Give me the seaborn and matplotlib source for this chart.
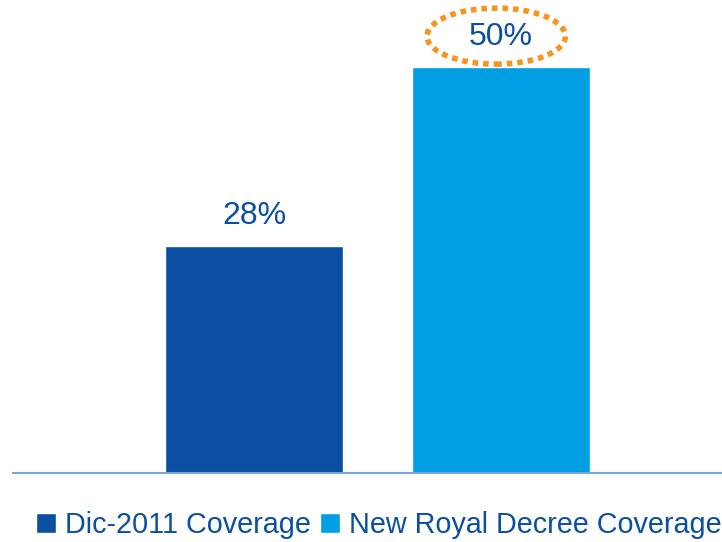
import matplotlib
matplotlib.use("Agg")
import matplotlib.pyplot as plt
from matplotlib import font_manager
import seaborn as sns
import pandas as pd
from matplotlib.patches import Ellipse

categories = ["Dic-2011 Coverage", "New Royal Decree Coverage"]
values = [28, 50]
labels = ["28%", "50%"]
colors = ["#0b4fa0", "#009fe3"]

sns.set_style("white")
names = {f.name for f in font_manager.fontManager.ttflist}
legend_font = "Liberation Sans Narrow" if "Liberation Sans Narrow" in names else "Liberation Sans"
plt.rcParams['font.family'] = ['Liberation Sans', 'DejaVu Sans']

df = pd.DataFrame({"series": categories, "value": values})

fig = plt.figure(figsize=(7.22, 5.42), dpi=100)
ax = fig.add_axes([13/722, 1 - 473/542, 709/722, 473/542])

sns.barplot(data=df, x="series", y="value", hue="series", palette=colors,
            width=0.72, legend=True, ax=ax, saturation=1)

ax.set_xlim(-0.976, 1.894)
ax.set_ylim(0, 58.25)
for s in ["top", "right", "left"]:
    ax.spines[s].set_visible(False)
ax.spines["bottom"].set_color("#7aa6dc")
ax.spines["bottom"].set_linewidth(1.5)
ax.set_xticks([])
ax.set_yticks([])
ax.set_xlabel("")
ax.set_ylabel("")

for i, (v, lab) in enumerate(zip(values, labels)):
    ax.annotate(lab, (i, v), xytext=(0, 15), textcoords="offset pixels",
                ha="center", va="bottom", fontsize=23, color="#0b4fa0")

ell = Ellipse((0.98, 53.8), 0.56, 6.9, fill=False, edgecolor="#f7931e",
              linewidth=4, linestyle=(0, (1, 0.9)))
ax.add_patch(ell)
ell.set_clip_on(False)

# size legend font so that the first entry spans ~245 px
renderer = fig.canvas.get_renderer()
tmp = fig.text(0, 0, categories[0], fontsize=20, family=[legend_font, 'DejaVu Sans'])
w = tmp.get_window_extent(renderer).width
tmp.remove()
fs = 20 * 245 / w
em = fs * 100 / 72

sns.move_legend(ax, "center left", bbox_to_anchor=(36/722, 1 - 525/542),
                bbox_transform=fig.transFigure,
                ncol=2, frameon=False, title=None,
                prop={"family": [legend_font, 'DejaVu Sans'], "size": fs},
                handlelength=20/em, handleheight=19/em, handletextpad=9/em,
                columnspacing=9/em, borderaxespad=0, borderpad=0)
for t in ax.get_legend().get_texts():
    t.set_color("#0b4fa0")

fig.savefig("out.png", dpi=100)
